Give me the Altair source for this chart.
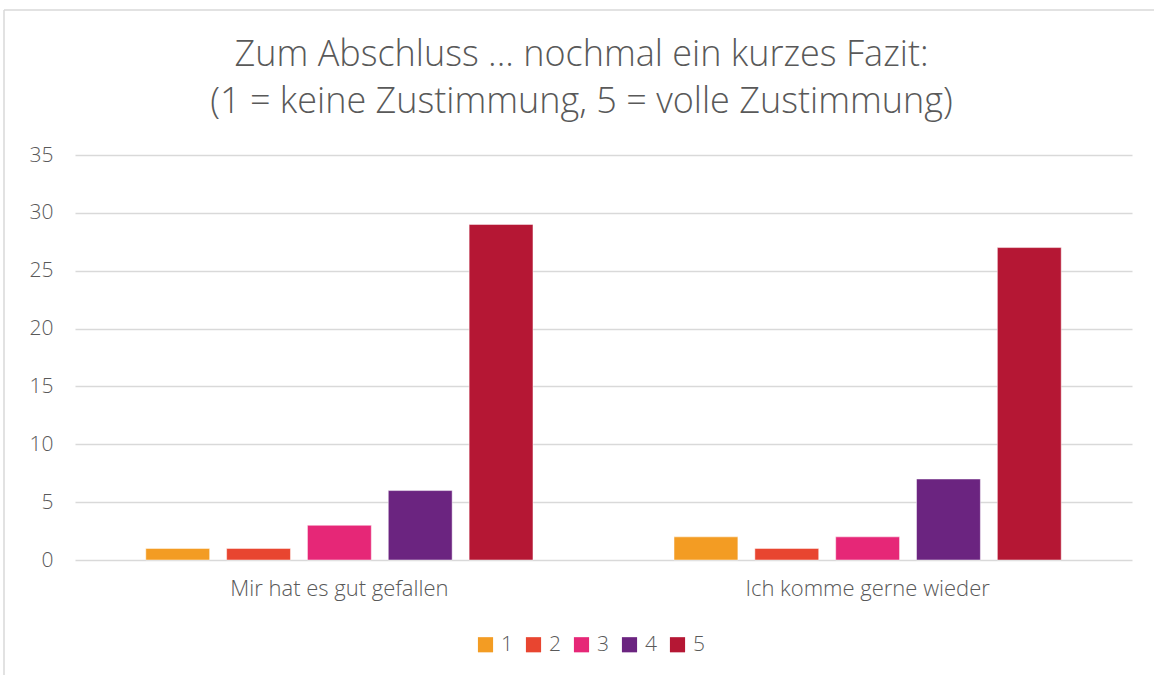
import altair as alt
import pandas as pd

categories = ["Mir hat es gut gefallen", "Ich komme gerne wieder"]
ratings = ["1", "2", "3", "4", "5"]
values_gefallen = [1, 1, 3, 6, 29]
values_wieder = [2, 1, 2, 7, 27]
colors = ["#F39C23", "#E84530", "#E62777", "#6B2480", "#B51734"]

rows = []
for cat, vals in zip(categories, [values_gefallen, values_wieder]):
    for r, v in zip(ratings, vals):
        rows.append({"Kategorie": cat, "Bewertung": r, "Anzahl": v})
df = pd.DataFrame(rows)

FONT = "Open Sans"
GREY = "#595959"

bars = alt.Chart(df).mark_bar(stroke="white", strokeWidth=0.8, strokeOpacity=0.6).encode(
    x=alt.X("Kategorie:N", sort=categories, title=None,
            scale=alt.Scale(paddingInner=0.267, paddingOuter=0.134),
            axis=alt.Axis(labelAngle=0, labelFontSize=22, labelColor=GREY, labelFont=FONT,
                          labelFontWeight=300,
                          labelPadding=18, ticks=False, domain=False, labelLimit=500)),
    xOffset=alt.XOffset("Bewertung:N", sort=ratings,
                        scale=alt.Scale(paddingInner=0.21, paddingOuter=0)),
    y=alt.Y("Anzahl:Q", title=None,
            scale=alt.Scale(domain=[0, 35], nice=False),
            axis=alt.Axis(values=[0, 5, 10, 15, 20, 25, 30, 35], labelFontSize=21,
                          labelColor=GREY, labelFont=FONT, labelFontWeight=300, labelPadding=22,
                          ticks=False, domain=False, gridColor="#d9d9d9", gridWidth=1.3)),
    color=alt.Color("Bewertung:N", sort=ratings,
                    scale=alt.Scale(domain=ratings, range=colors),
                    legend=alt.Legend(title=None, orient="none", direction="horizontal",
                                      legendX=400, legendY=479, symbolType="square",
                                      symbolSize=230, symbolStrokeWidth=0,
                                      labelFontSize=21, labelColor=GREY, labelFont=FONT,
                                      labelFontWeight=300,
                                      columnPadding=10, labelOffset=5)),
)

border_df = pd.DataFrame({"a": [0]})
top_border = alt.Chart(border_df).mark_rule(color="#d9d9d9", strokeWidth=1.5).encode(
    x=alt.value(-71), x2=alt.value(1100), y=alt.value(-145))
left_border = alt.Chart(border_df).mark_rule(color="#d9d9d9", strokeWidth=1.5).encode(
    x=alt.value(-71), y=alt.value(-145), y2=alt.value(530))

chart = alt.layer(top_border, left_border, bars).properties(
    width=1057, height=405,
    background="white",
    title=alt.TitleParams(
        ["Zum Abschluss ... nochmal ein kurzes Fazit:",
         "(1 = keine Zustimmung, 5 = volle Zustimmung)"],
        fontSize=36, font=FONT, fontWeight=300, color=GREY, anchor="middle",
        lineHeight=47, offset=-112, dx=-22),
    autosize=alt.AutoSizeParams(type="none"),
    padding={"left": 75, "top": 155, "right": 22, "bottom": 115},
).configure_view(strokeWidth=0)

chart.save("out.html", embed_options={"renderer": "svg", "actions": False})
